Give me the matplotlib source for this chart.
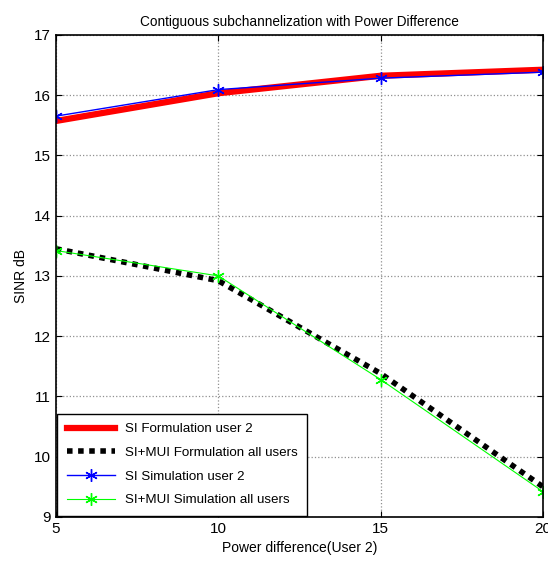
import matplotlib
matplotlib.use('Agg')
import matplotlib.pyplot as plt

plt.rcParams['font.family'] = ['Liberation Sans', 'DejaVu Sans']

# data
power_diff = [5, 10, 15, 20]
si_form = [15.57, 16.03, 16.32, 16.42]
si_sim = [15.65, 16.09, 16.28, 16.38]
mui_form = [13.45, 12.92, 11.38, 9.50]
mui_sim = [13.42, 13.00, 11.28, 9.42]

fig = plt.figure(figsize=(5.48, 5.70), dpi=100)
ax = fig.add_axes([0.102, 0.093, 0.889, 0.846])

star = (6, 2, 0)  # asterisk, like matlab '*'
ax.plot(power_diff, si_form, color='red', lw=4.5, label='SI Formulation user 2')
ax.plot(power_diff, mui_form, color='black', lw=4, ls=(0, (1, 1)),
        label='SI+MUI Formulation all users')
ax.plot(power_diff, si_sim, color='blue', lw=1, marker=star, ms=9, mew=1,
        label='SI Simulation user 2')
ax.plot(power_diff, mui_sim, color='#00ff00', lw=0.8, marker=star, ms=9, mew=1,
        label='SI+MUI Simulation all users')

ax.set_xlim(5, 20)
ax.set_ylim(9, 17)
ax.set_xticks([5, 10, 15, 20])
ax.set_yticks(range(9, 18))
ax.tick_params(direction='in', top=True, right=True, labelsize=11, length=4)
ax.grid(True, color='#909090', ls=':', lw=0.9)
for s in ax.spines.values():
    s.set_linewidth(1.2)

ax.set_title('Contiguous subchannelization with Power Difference', fontsize=9.8)
ax.set_xlabel('Power difference(User 2)', fontsize=10)
ax.set_ylabel('SINR dB', fontsize=10)

leg = ax.legend(loc='lower left', fontsize=9.6, fancybox=False, framealpha=1,
                edgecolor='black', borderaxespad=0.1, handlelength=3.6,
                labelspacing=0.85, borderpad=0.7)
leg.get_frame().set_linewidth(1)

fig.savefig('out.png', dpi=100)
